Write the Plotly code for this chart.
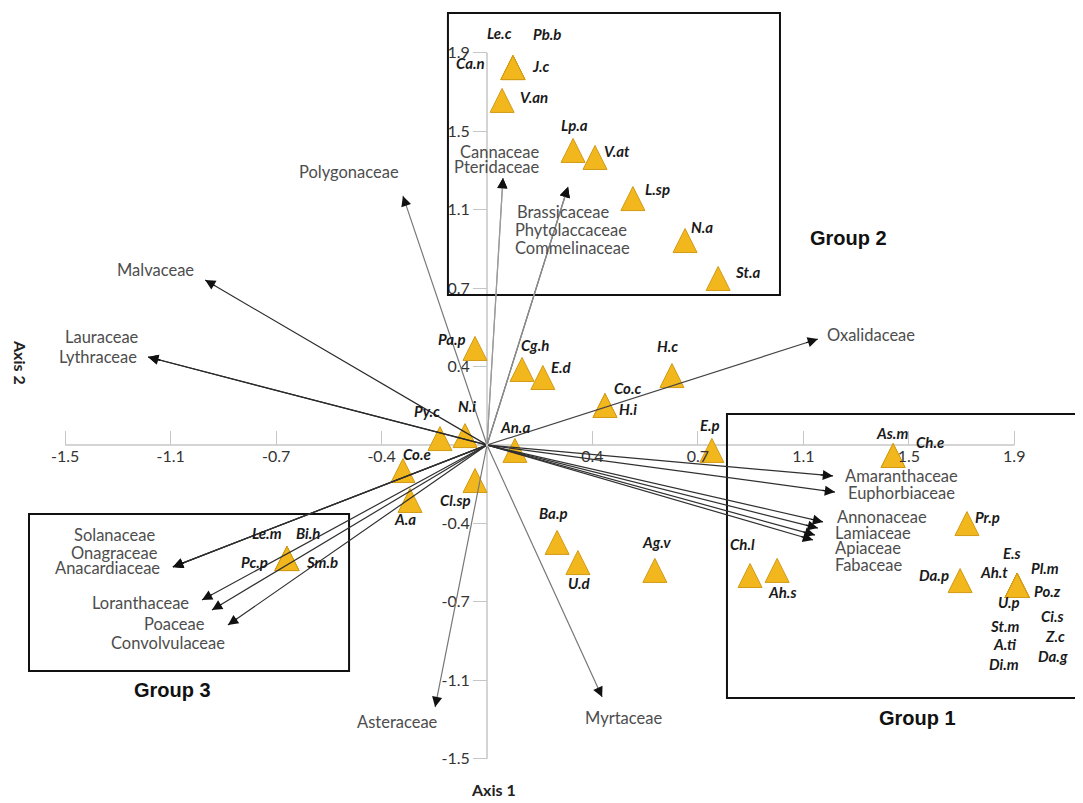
import plotly.graph_objects as go

# ---------------- data ----------------
AXIS_TICKS = [-1.48, -1.11, -0.74, -0.37, 0.37, 0.74, 1.11, 1.48, 1.85]
X_TICK_LABELS = ["-1.5", "-1.1", "-0.7", "-0.4", "0.4", "0.7", "1.1", "1.5", "1.9"]
Y_TICK_LABELS = ["-1.5", "-1.1", "-0.7", "-0.4", "0.4", "0.7", "1.1", "1.5", "1.9"]

SPECIES = ["Le.c", "Pb.b", "Ca.n", "J.c", "V.an", "Lp.a", "V.at", "L.sp", "N.a", "St.a",
           "Pa.p", "Cg.h", "E.d", "H.c", "Co.c", "H.i", "N.i", "Py.c", "An.a", "E.p",
           "Co.e", "A.a", "Cl.sp", "Ba.p", "U.d", "Ag.v",
           "Le.m", "Bi.h", "Pc.p", "Sm.b",
           "As.m", "Ch.e", "Pr.p", "Ch.l", "Ah.s", "Da.p",
           "E.s", "Ah.t", "Pl.m", "Po.z", "U.p", "Ci.s", "St.m", "Z.c", "A.ti", "Da.g", "Di.m"]
SPECIES_X = [0.091, 0.091, 0.091, 0.091, 0.053, 0.302, 0.379, 0.512, 0.695, 0.811,
             -0.042, 0.123, 0.196, 0.649, 0.414, 0.414, -0.077, -0.165, 0.098, 0.789,
             -0.295, -0.270, -0.042, 0.246, 0.319, 0.589,
             -0.702, -0.702, -0.702, -0.702,
             1.425, 1.425, 1.684, 0.923, 1.018, 1.660,
             1.860, 1.860, 1.860, 1.860, 1.860, 1.860, 1.860, 1.860, 1.860, 1.860, 1.860]
SPECIES_Y = [1.837, 1.837, 1.837, 1.837, 1.682, 1.446, 1.413, 1.219, 1.021, 0.842,
             0.512, 0.413, 0.375, 0.384, 0.243, 0.243, 0.101, 0.087, 0.031, 0.031,
             -0.064, -0.205, -0.111, -0.403, -0.498, -0.535,
             -0.479, -0.479, -0.479, -0.479,
             0.007, 0.007, -0.314, -0.559, -0.535, -0.583,
             -0.606, -0.606, -0.606, -0.606, -0.606, -0.606, -0.606, -0.606, -0.606, -0.606, -0.606]

FAMILIES = ["Malvaceae", "Lauraceae", "Lythraceae", "Polygonaceae", "Cannaceae", "Pteridaceae",
            "Brassicaceae", "Phytolaccaceae", "Commelinaceae", "Oxalidaceae",
            "Amaranthaceae", "Euphorbiaceae", "Annonaceae", "Lamiaceae", "Apiaceae", "Fabaceae",
            "Myrtaceae", "Asteraceae", "Solanaceae", "Onagraceae", "Anacardiaceae",
            "Loranthaceae", "Poaceae", "Convolvulaceae"]
FAMILY_X = [-0.989, -1.189, -1.189, -0.295, 0.056, 0.056,
            0.284, 0.284, 0.284, 1.161,
            1.214, 1.221, 1.179, 1.161, 1.151, 1.144,
            0.404, -0.182, -1.102, -1.102, -1.102,
            -1.000, -0.965, -0.909]
FAMILY_Y = [0.778, 0.415, 0.415, 1.175, 1.259, 1.259,
            1.217, 1.217, 1.217, 0.500,
            -0.146, -0.222, -0.363, -0.392, -0.425, -0.448,
            -1.189, -1.236, -0.575, -0.575, -0.575,
            -0.731, -0.778, -0.849]

GROUPS = ["Group 1", "Group 2", "Group 3"]
GROUP_X0 = [0.842, -0.137, -1.607]
GROUP_X1 = [2.081, 1.028, -0.484]
GROUP_Y0 = [-1.193, 0.708, -1.066]
GROUP_Y1 = [0.146, 2.038, -0.325]
GROUP_LABEL_X = [1.509, 1.270, -1.105]
GROUP_LABEL_Y = [-1.288, 0.976, -1.156]

# ---------------- style ----------------
FIG_W, FIG_H = 1075, 795
X_RANGE = [-1.6807, -1.6807 + FIG_W / 285.0]
Y_RANGE = [2.0613 - FIG_H / 212.0, 2.0613]
FONT = "Lato"
AXIS_GREY = "#c6c6c6"
HEAD_FRACTION = 0.96

# label offsets in px (dx, dy up)
SPECIES_SHIFT = {
    "Le.c": (-13, 23), "Pb.b": (34, 22), "Ca.n": (-42, -7), "J.c": (28, -10),
    "V.an": (32, -9), "Lp.a": (1, 13), "V.at": (22, -6), "L.sp": (25, -2),
    "N.a": (17, 2), "St.a": (29, -6), "Pa.p": (-23, -3), "Cg.h": (13, 12),
    "E.d": (19, -1), "H.c": (-4, 18), "Co.c": (23, 5), "H.i": (23, -16),
    "N.i": (2, 18), "Py.c": (-13, 16), "An.a": (0, 11), "E.p": (-2, 13),
    "Co.e": (14, 5), "A.a": (-5, -31), "Cl.sp": (-20, -31), "Ba.p": (-4, 17),
    "U.d": (2, -32), "Ag.v": (2, 16), "Le.m": (-20, 14), "Bi.h": (21, 14),
    "Pc.p": (-32, -15), "Sm.b": (35, -15), "As.m": (-1, 11), "Ch.e": (37, 2),
    "Pr.p": (21, -5), "Ch.l": (-8, 20), "Ah.s": (5, -34), "Da.p": (-26, -6),
    "E.s": (-5, 20), "Ah.t": (-23, 1), "Pl.m": (28, 5), "Po.z": (30, -18),
    "U.p": (-8, -29), "Ci.s": (35, -43), "St.m": (-13, -53), "Z.c": (38, -63),
    "A.ti": (-12, -71), "Da.g": (36, -83), "Di.m": (-13, -91),
}
FAMILY_SHIFT = {
    "Malvaceae": (-50, 10, "center"), "Lauraceae": (-46, 20, "center"),
    "Lythraceae": (-50, 0, "center"), "Polygonaceae": (-54, 24, "center"),
    "Cannaceae": (-3, 26, "center"), "Pteridaceae": (-6, 11, "center"),
    "Brassicaceae": (-53, -25, "left"), "Phytolaccaceae": (-55, -43, "left"),
    "Commelinaceae": (-55, -61, "left"), "Oxalidaceae": (7, 4, "left"),
    "Amaranthaceae": (10, 0, "left"), "Euphorbiaceae": (11, -1, "left"),
    "Annonaceae": (12, 5, "left"), "Lamiaceae": (15, -5, "left"),
    "Apiaceae": (18, -13, "left"), "Fabaceae": (20, -25, "left"),
    "Myrtaceae": (21, -21, "center"), "Asteraceae": (-38, -15, "center"),
    "Solanaceae": (-58, 32, "center"), "Onagraceae": (-58, 14, "center"),
    "Anacardiaceae": (-65, -1, "center"), "Loranthaceae": (-62, -3, "center"),
    "Poaceae": (-37, -14, "center"), "Convolvulaceae": (-60, -18, "center"),
}
FAMILY_COLOR = {
    "Malvaceae": "#2a2a2a", "Lauraceae": "#2a2a2a", "Lythraceae": "#2a2a2a",
    "Polygonaceae": "#7a7a7a", "Cannaceae": "#9a9a9a", "Pteridaceae": "#9a9a9a",
    "Brassicaceae": "#8a8a8a", "Phytolaccaceae": "#8a8a8a", "Commelinaceae": "#8a8a8a",
    "Oxalidaceae": "#444444", "Myrtaceae": "#777777", "Asteraceae": "#777777",
}

fig = go.Figure()

# triangles (sites)
fig.add_trace(go.Scatter(
    x=SPECIES_X, y=SPECIES_Y, mode="markers",
    marker=dict(symbol="arrow-up", size=24, color="#F3B71E",
                line=dict(color="#D29A14", width=1)),
    hoverinfo="text", text=SPECIES, showlegend=False,
))

# axis lines
fig.add_shape(type="line", xref="x", yref="y", x0=AXIS_TICKS[0], x1=AXIS_TICKS[-1], y0=0, y1=0,
              line=dict(color=AXIS_GREY, width=1.5), layer="below")
fig.add_shape(type="line", xref="x", yref="y", x0=0, x1=0, y0=AXIS_TICKS[0], y1=AXIS_TICKS[-1],
              line=dict(color=AXIS_GREY, width=1.5), layer="below")

annotations = []
# family vectors (line) + black arrow heads
for name, fx, fy in zip(FAMILIES, FAMILY_X, FAMILY_Y):
    col = FAMILY_COLOR.get(name, "#303030")
    annotations.append(dict(
        x=fx, y=fy, ax=0, ay=0, xref="x", yref="y", axref="x", ayref="y",
        text="", showarrow=True, arrowhead=0, arrowwidth=1.2,
        arrowcolor=col, standoff=0, startstandoff=0,
    ))
    annotations.append(dict(
        x=fx, y=fy, ax=fx * HEAD_FRACTION, ay=fy * HEAD_FRACTION,
        xref="x", yref="y", axref="x", ayref="y",
        text="", showarrow=True, arrowhead=2, arrowsize=1.7, arrowwidth=1.2,
        arrowcolor="#111111", standoff=0, startstandoff=0,
    ))
for name, fx, fy in zip(FAMILIES, FAMILY_X, FAMILY_Y):
    dx, dy, anc = FAMILY_SHIFT[name]
    annotations.append(dict(
        x=fx, y=fy, xref="x", yref="y", text=name, showarrow=False,
        xshift=dx, yshift=dy, xanchor=anc, yanchor="middle",
        font=dict(family=FONT, size=16.5, color="#4d4d4d"),
    ))
# species labels
for name, sx, sy in zip(SPECIES, SPECIES_X, SPECIES_Y):
    dx, dy = SPECIES_SHIFT[name]
    annotations.append(dict(
        x=sx, y=sy, xref="x", yref="y", text="<b><i>" + name + "</i></b>", showarrow=False,
        xshift=dx, yshift=dy, xanchor="center", yanchor="middle",
        font=dict(family=FONT, size=15, color="#1a1a1a"),
    ))
# group boxes + labels
for g, x0, x1, y0, y1, lx, ly in zip(GROUPS, GROUP_X0, GROUP_X1, GROUP_Y0, GROUP_Y1,
                                     GROUP_LABEL_X, GROUP_LABEL_Y):
    fig.add_shape(type="rect", xref="x", yref="y", x0=x0, x1=x1, y0=y0, y1=y1,
                  line=dict(color="#111111", width=2), layer="above")
    annotations.append(dict(
        x=lx, y=ly, xref="x", yref="y", text="<b>" + g + "</b>", showarrow=False,
        font=dict(family="Liberation Sans", size=20, color="#111111"),
    ))
# axis titles
annotations.append(dict(x=0, y=Y_RANGE[0], xref="x", yref="y", text="<b>Axis 1</b>",
                        showarrow=False, yanchor="middle", yshift=14, xshift=6,
                        font=dict(family=FONT, size=16, color="#222222")))
annotations.append(dict(x=X_RANGE[0], y=0, xref="x", yref="y", text="<b>Axis 2</b>",
                        showarrow=False, textangle=90, xanchor="center", yanchor="middle",
                        xshift=13, yshift=83,
                        font=dict(family=FONT, size=16, color="#222222")))

tickfont = dict(family=FONT, size=16, color="#333333")
x_pos = (0 - X_RANGE[0]) / (X_RANGE[1] - X_RANGE[0])
y_pos = (0 - Y_RANGE[0]) / (Y_RANGE[1] - Y_RANGE[0])

fig.update_layout(
    width=FIG_W, height=FIG_H,
    margin=dict(l=0, r=0, t=0, b=0),
    paper_bgcolor="white", plot_bgcolor="white",
    showlegend=False,
    annotations=annotations,
    xaxis=dict(range=X_RANGE, anchor="free", position=y_pos, side="bottom",
               tickvals=AXIS_TICKS, ticktext=X_TICK_LABELS, ticks="inside",
               ticklen=14, tickwidth=1.2, tickcolor=AXIS_GREY, tickfont=tickfont,
               showgrid=False, zeroline=False, showline=False, fixedrange=True),
    yaxis=dict(range=Y_RANGE, anchor="free", position=x_pos, side="left",
               tickvals=AXIS_TICKS, ticktext=Y_TICK_LABELS, ticks="outside",
               ticklen=14, tickwidth=1.2, tickcolor=AXIS_GREY, tickfont=tickfont,
               showgrid=False, zeroline=False, showline=False, fixedrange=True),
)

fig.write_html("out.html")
